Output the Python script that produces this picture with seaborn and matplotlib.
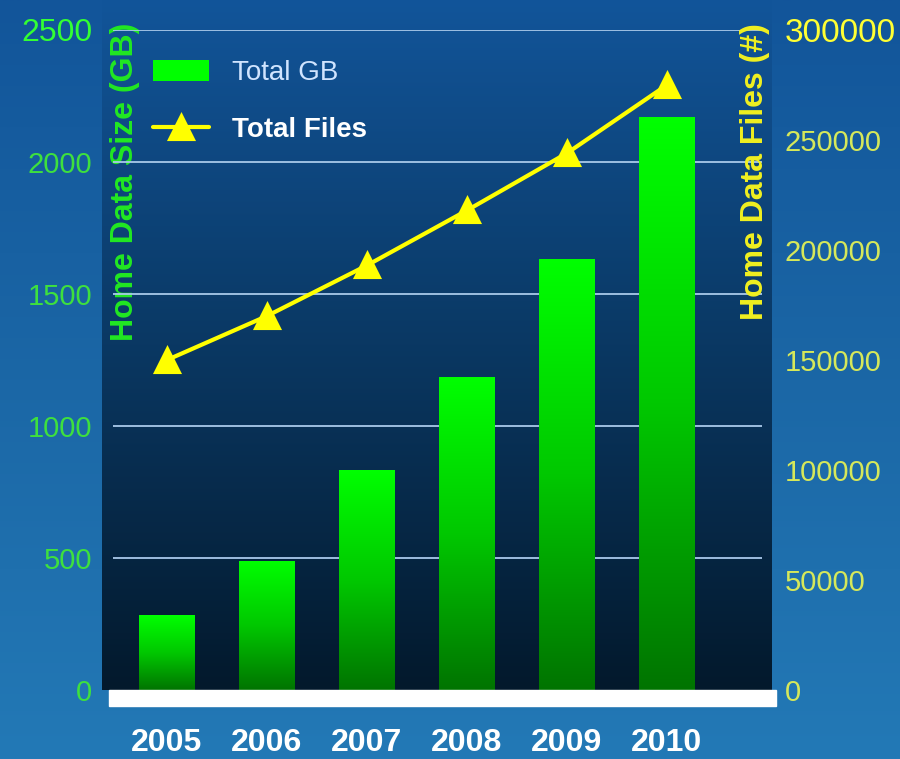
import numpy as np
import pandas as pd
import matplotlib.pyplot as plt
import seaborn as sns
from matplotlib.patches import Rectangle
from matplotlib.colors import LinearSegmentedColormap

# values
years = [2005, 2006, 2007, 2008, 2009, 2010]
total_gb = [284, 489, 833, 1186, 1633, 2170]
total_files = [150000, 170000, 193000, 218000, 244000, 275000]
gb_ticks = [0, 500, 1000, 1500, 2000, 2500]
file_ticks = [0, 50000, 100000, 150000, 200000, 250000, 300000]

df = pd.DataFrame({"year": years, "gb": total_gb, "files": total_files})

sns.set_style("white")
plt.rcParams['font.family'] = ['Liberation Sans', 'DejaVu Sans']

fig = plt.figure(figsize=(9, 7.59), dpi=100)

# background: figure gradient + darker plot area gradient
bg = fig.add_axes([0, 0, 1, 1], zorder=-10)
bg.axis('off')
grad = np.linspace(0, 1, 256).reshape(-1, 1)
fig_cmap = LinearSegmentedColormap.from_list("figbg", ["#2379b6", "#1b67a6", "#12559a"])
bg.imshow(grad, extent=[0, 1, 0, 1], aspect='auto', cmap=fig_cmap, origin='lower')
plot_cmap = LinearSegmentedColormap.from_list("plotbg", ["#03192c", "#0a3863", "#12559a"])
left, bottom, width, height = 0.1133, 0.0909, 0.7444, 0.8696
bg.imshow(grad, extent=[left, left + width, bottom, 1], aspect='auto', cmap=plot_cmap, origin='lower')
bg.set_xlim(0, 1)
bg.set_ylim(0, 1)

ax = fig.add_axes([left, bottom, width, height])
ax.set_facecolor('none')

# grid lines (slightly inset like the original)
ax.hlines(gb_ticks[1:], 0.016, 0.985, transform=ax.get_yaxis_transform(),
          color="#a9c9ea", lw=1.3, zorder=1)

sns.barplot(data=df, x="year", y="gb", color="#00ff00", saturation=1,
            width=0.56, ax=ax, label="Total GB", zorder=2, errorbar=None,
            edgecolor="none", linewidth=0)

# vertical green gradient inside each bar
green_cmap = LinearSegmentedColormap.from_list("bars", ["#007400", "#00c800", "#00ff00"])
for p in list(ax.patches):
    x0, y0 = p.get_x(), p.get_y()
    w, h = p.get_width(), p.get_height()
    im = ax.imshow(grad, extent=[x0, x0 + w, y0, y0 + h], cmap=green_cmap,
                   aspect='auto', origin='lower', zorder=2.5)
    im.set_clip_path(p)

ax2 = ax.twinx()
sns.pointplot(data=df, x="year", y="files", ax=ax2, color="#ffff00",
              marker="^", markersize=17, linewidth=3, errorbar=None,
              label="Total Files")

for a in (ax, ax2):
    if a.get_legend() is not None:
        a.get_legend().remove()
    for s in a.spines.values():
        s.set_visible(False)

ax.set_ylim(0, 2500)
ax2.set_ylim(0, 300000)
ax.set_xlim(-0.65, 6.05)

ax.set_yticks(gb_ticks)
ax.set_yticklabels([str(v) for v in gb_ticks])
ax2.set_yticks(file_ticks)
ax2.set_yticklabels([str(v) for v in file_ticks])

ax.tick_params(axis='y', length=0, pad=7, labelsize=21, labelcolor="#3ee03e")
ax2.tick_params(axis='y', length=0, pad=9, labelsize=21, labelcolor="#d6e85a")
ax.get_yticklabels()[-1].set_color("#33ff33")
ax.get_yticklabels()[-1].set_fontsize(23)
ax2.get_yticklabels()[-1].set_color("#ffff33")
ax2.get_yticklabels()[-1].set_fontsize(24)

ax.tick_params(axis='x', length=0, pad=27, labelsize=23, labelcolor="white")
for t in ax.get_xticklabels():
    t.set_fontweight('bold')

ax.set_xlabel("")
ax.set_ylabel("Home Data Size (GB)", color="#22e822", fontsize=23, fontweight='bold')
ax.yaxis.set_label_coords(0.057, 0.77)
ax2.set_ylabel("Home Data Files (#)", color="#f0f020", fontsize=23, fontweight='bold')
ax2.yaxis.set_label_coords(0.952, 0.785)

# white floor under the bars
fig.add_artist(Rectangle((0.1211, 0.0698), 0.7411, 0.0211, transform=fig.transFigure,
                         color="white", zorder=5))

h1, l1 = ax.get_legend_handles_labels()
h2, l2 = ax2.get_legend_handles_labels()
leg = ax2.legend(h1 + h2, l1 + l2, loc='upper left', bbox_to_anchor=(0.17, 0.921),
                 bbox_transform=fig.transFigure, frameon=False, fontsize=20,
                 handlelength=2.0, handleheight=0.8, handletextpad=0.85,
                 labelspacing=1.1, borderpad=0, borderaxespad=0)
leg.get_texts()[0].set_color("#d0e4ff")
leg.get_texts()[1].set_color("white")
leg.get_texts()[1].set_fontweight('bold')

fig.savefig("out.png", dpi=100)
